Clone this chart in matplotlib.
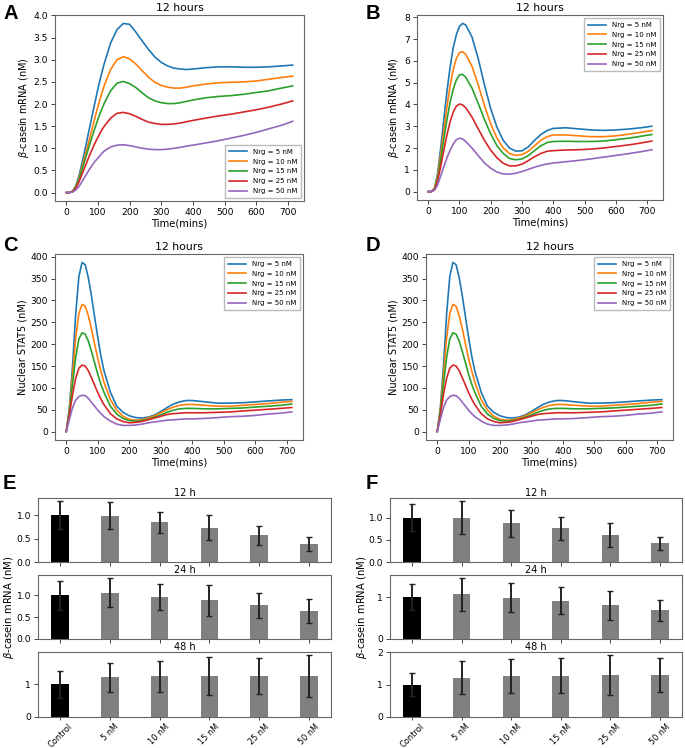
import matplotlib
matplotlib.use("Agg")
import matplotlib.pyplot as plt
from matplotlib.ticker import MultipleLocator

# time grid (mins) shared by all simulated curves
t_min = [0, 10, 20, 30, 40, 50, 60, 70, 80, 90, 100, 110, 120, 140, 160, 180, 200,
         220, 240, 260, 280, 300, 320, 340, 360, 380, 400, 440, 480, 520, 560, 600,
         640, 680, 715]

nrg_labels = ["Nrg = 5 nM", "Nrg = 10 nM", "Nrg = 15 nM", "Nrg = 25 nM", "Nrg = 50 nM"]

# panel A: beta-casein mRNA (nM)
mrna_a = [
    [0, 0.0, 0.03, 0.15, 0.38, 0.68, 1.0, 1.35, 1.68, 2.02, 2.35, 2.65, 2.92, 3.38, 3.68,
     3.82, 3.8, 3.62, 3.42, 3.23, 3.06, 2.94, 2.86, 2.81, 2.79, 2.78, 2.79, 2.82, 2.84,
     2.84, 2.83, 2.83, 2.84, 2.86, 2.88],
    [0, 0.0, 0.03, 0.13, 0.33, 0.58, 0.85, 1.12, 1.4, 1.68, 1.95, 2.2, 2.42, 2.78, 3.0,
     3.07, 3.02, 2.9, 2.75, 2.6, 2.49, 2.42, 2.38, 2.36, 2.36, 2.38, 2.41, 2.45, 2.48,
     2.49, 2.5, 2.52, 2.56, 2.6, 2.63],
    [0, 0.0, 0.03, 0.12, 0.3, 0.52, 0.76, 1.0, 1.23, 1.45, 1.66, 1.85, 2.02, 2.3, 2.47,
     2.51, 2.46, 2.37, 2.25, 2.14, 2.07, 2.03, 2.01, 2.01, 2.03, 2.06, 2.09, 2.14, 2.17,
     2.19, 2.22, 2.26, 2.3, 2.36, 2.41],
    [0, 0.0, 0.02, 0.1, 0.24, 0.42, 0.6, 0.78, 0.95, 1.11, 1.25, 1.39, 1.5, 1.68, 1.79,
     1.81, 1.78, 1.72, 1.65, 1.59, 1.56, 1.54, 1.54, 1.55, 1.57, 1.6, 1.63, 1.68, 1.73,
     1.77, 1.82, 1.87, 1.93, 2.0, 2.07],
    [0, 0.0, 0.01, 0.06, 0.14, 0.25, 0.37, 0.49, 0.6, 0.7, 0.78, 0.87, 0.94, 1.03, 1.07,
     1.08, 1.06, 1.03, 1.0, 0.98, 0.97, 0.97, 0.98, 1.0, 1.02, 1.05, 1.07, 1.12, 1.17,
     1.23, 1.29, 1.36, 1.44, 1.52, 1.61],
]

# panel B: beta-casein mRNA (nM)
mrna_b = [
    [0, 0.0, 0.15, 0.8, 2.0, 3.3, 4.6, 5.7, 6.6, 7.2, 7.58, 7.72, 7.65, 7.1, 6.1, 4.9,
     3.8, 2.95, 2.35, 2.0, 1.86, 1.87, 2.05, 2.35, 2.62, 2.8, 2.9, 2.93, 2.88, 2.83,
     2.81, 2.83, 2.87, 2.93, 3.0],
    [0, 0.0, 0.13, 0.7, 1.7, 2.8, 3.9, 4.85, 5.6, 6.1, 6.38, 6.42, 6.3, 5.75, 4.9, 3.95,
     3.1, 2.45, 2.0, 1.75, 1.66, 1.7, 1.85, 2.1, 2.35, 2.52, 2.6, 2.6, 2.56, 2.52,
     2.52, 2.56, 2.63, 2.72, 2.8],
    [0, 0.0, 0.11, 0.6, 1.45, 2.4, 3.3, 4.1, 4.7, 5.12, 5.36, 5.38, 5.25, 4.75, 4.05, 3.3,
     2.65, 2.1, 1.75, 1.52, 1.46, 1.5, 1.65, 1.88, 2.1, 2.25, 2.3, 2.31, 2.3, 2.3,
     2.32, 2.38, 2.45, 2.54, 2.62],
    [0, 0.0, 0.09, 0.48, 1.15, 1.9, 2.6, 3.2, 3.65, 3.92, 4.02, 3.98, 3.85, 3.42, 2.88,
     2.35, 1.9, 1.55, 1.3, 1.18, 1.18, 1.26, 1.42, 1.6, 1.75, 1.85, 1.88, 1.91, 1.92,
     1.95, 2.0, 2.07, 2.14, 2.23, 2.32],
    [0, 0.0, 0.06, 0.3, 0.72, 1.15, 1.55, 1.9, 2.18, 2.38, 2.45, 2.42, 2.3, 2.0, 1.65,
     1.32, 1.07, 0.9, 0.81, 0.8, 0.84, 0.92, 1.02, 1.12, 1.2, 1.27, 1.31, 1.37, 1.43,
     1.5, 1.58, 1.66, 1.74, 1.83, 1.92],
]

# panels C and D: nuclear STAT5 (nM)
stat5 = [
    [0, 55, 150, 270, 355, 387, 382, 352, 310, 262, 215, 172, 138, 90, 58, 44, 36, 32,
     31, 33, 38, 46, 55, 63, 68, 71, 71, 68, 65, 65, 66, 68, 70, 72, 73],
    [0, 50, 130, 215, 270, 291, 287, 265, 235, 200, 167, 138, 112, 73, 49, 35, 28, 26,
     27, 31, 36, 43, 50, 56, 60, 62, 62, 60, 58, 58, 60, 62, 64, 67, 69],
    [0, 45, 110, 170, 212, 226, 223, 207, 183, 157, 131, 108, 89, 58, 40, 30, 25, 24,
     25, 28, 33, 38, 44, 49, 52, 53, 53, 52, 52, 53, 54, 56, 58, 60, 63],
    [0, 38, 85, 122, 145, 152, 150, 139, 123, 106, 89, 74, 61, 41, 29, 23, 20, 21, 23,
     27, 31, 35, 39, 41, 42, 43, 43, 43, 44, 45, 47, 49, 51, 53, 55],
    [0, 28, 55, 72, 80, 83, 82, 76, 67, 58, 49, 41, 34, 24, 17, 14, 14, 15, 17, 20, 22,
     24, 26, 27, 28, 29, 29, 30, 32, 34, 35, 37, 40, 42, 45],
]

# panels E and F: bar charts (mean, error)
groups = ["Control", "5 nM", "10 nM", "15 nM", "25 nM", "50 nM"]
times = ["12 h", "24 h", "48 h"]
e_mean = [[1.0, 0.99, 0.845, 0.73, 0.57, 0.39],
          [1.0, 1.06, 0.96, 0.88, 0.77, 0.64],
          [1.0, 1.2, 1.23, 1.24, 1.25, 1.25]]
e_err = [[0.3, 0.295, 0.225, 0.27, 0.2, 0.145],
         [0.33, 0.33, 0.29, 0.35, 0.29, 0.265],
         [0.41, 0.445, 0.47, 0.58, 0.545, 0.63]]
f_mean = [[1.0, 1.0, 0.87, 0.76, 0.6, 0.42],
          [1.0, 1.07, 0.99, 0.92, 0.81, 0.69],
          [1.0, 1.21, 1.25, 1.27, 1.29, 1.29]]
f_err = [[0.31, 0.37, 0.31, 0.26, 0.27, 0.145],
         [0.31, 0.39, 0.35, 0.32, 0.345, 0.25],
         [0.36, 0.51, 0.52, 0.535, 0.61, 0.515]]
e_yticks = [[0.0, 0.5, 1.0], [0.0, 0.5, 1.0], [0, 1]]
f_yticks = [[0.0, 0.5, 1.0], [0, 1], [0, 1, 2]]

colors = ["#1f77b4", "#ff7f0e", "#2ca02c", "#d62728", "#9467bd"]
W, H = 685, 748
FS = 6.6


def frac(x0, y0, x1, y1):
    return [x0 / W, 1 - y1 / H, (x1 - x0) / W, (y1 - y0) / H]


def style(ax):
    for s in ax.spines.values():
        s.set_color("#666666")
        s.set_linewidth(0.8)
    ax.tick_params(labelsize=FS, length=3, width=0.7, color="#444444", pad=2)


def line_panel(fig, rect, series, ylabel, ystep, loc, legend_fs=5.0):
    ax = fig.add_axes(frac(*rect))
    for vals, c, lab in zip(series, colors, nrg_labels):
        ax.plot(t_min, vals, color=c, lw=1.2, label=lab)
    ax.set_title("12 hours", fontsize=7.8, pad=3)
    ax.set_xlabel("Time(mins)", fontsize=7.2, labelpad=1)
    ax.set_ylabel(ylabel, fontsize=7.0, labelpad=2)
    ax.xaxis.set_major_locator(MultipleLocator(100))
    ax.yaxis.set_major_locator(MultipleLocator(ystep))
    style(ax)
    ax.legend(loc=loc, fontsize=legend_fs, handlelength=2.6, labelspacing=0.55,
              borderpad=0.5, framealpha=1, edgecolor="#bbbbbb", fancybox=False)
    return ax


def bar_panel(fig, x0, x1, rows, means, errs, yticks):
    axes = []
    for i, (y0, y1) in enumerate(rows):
        ax = fig.add_axes(frac(x0, y0, x1, y1))
        xs = list(range(len(groups)))
        ax.bar(xs, means[i], width=0.35, yerr=errs[i],
               color=["black"] + ["gray"] * 5, capsize=2.2,
               error_kw=dict(elinewidth=1.4, capthick=1.0, ecolor="#222222"))
        ax.set_title(times[i], fontsize=7.0, pad=1.5)
        ax.set_yticks(yticks[i])
        ax.set_xticks(xs)
        style(ax)
        if i < 2:
            ax.set_xticklabels([])
        else:
            ax.set_xticklabels(groups, rotation=45, fontsize=5.9)
            ax.tick_params(axis="x", length=2.5, pad=1)
        axes.append(ax)
    return axes


fig = plt.figure(figsize=(W / 100, H / 100), dpi=100)

line_panel(fig, (55, 15, 304, 201), mrna_a, r"$\beta$-casein mRNA (nM)", 0.5, "lower right")
line_panel(fig, (417, 15, 663, 200), mrna_b, r"$\beta$-casein mRNA (nM)", 1, "upper right")
line_panel(fig, (55, 254, 303, 440), stat5, "Nuclear STAT5 (nM)", 50, "upper right")
line_panel(fig, (426, 254, 673, 440), stat5, "Nuclear STAT5 (nM)", 50, "upper right")

rows = [(498, 562), (575, 639), (652, 717)]
bar_panel(fig, 38, 331, rows, e_mean, e_err, e_yticks)
bar_panel(fig, 390, 682, rows, f_mean, f_err, f_yticks)

ylab = r"$\beta$-casein mRNA (nM)"
fig.text(9 / W, 1 - 607 / H, ylab, rotation=90, va="center", ha="center", fontsize=7.2)
fig.text(362 / W, 1 - 607 / H, ylab, rotation=90, va="center", ha="center", fontsize=7.2)

letters = [("A", 3, 4), ("B", 366, 4), ("C", 3, 236), ("D", 366, 236),
           ("E", 3, 474), ("F", 366, 474)]
for s, x, y in letters:
    fig.text(x / W, 1 - y / H, s, fontsize=14.5, fontweight="bold",
             family="Liberation Sans", va="top", ha="left")

fig.savefig("out.png", dpi=100)
